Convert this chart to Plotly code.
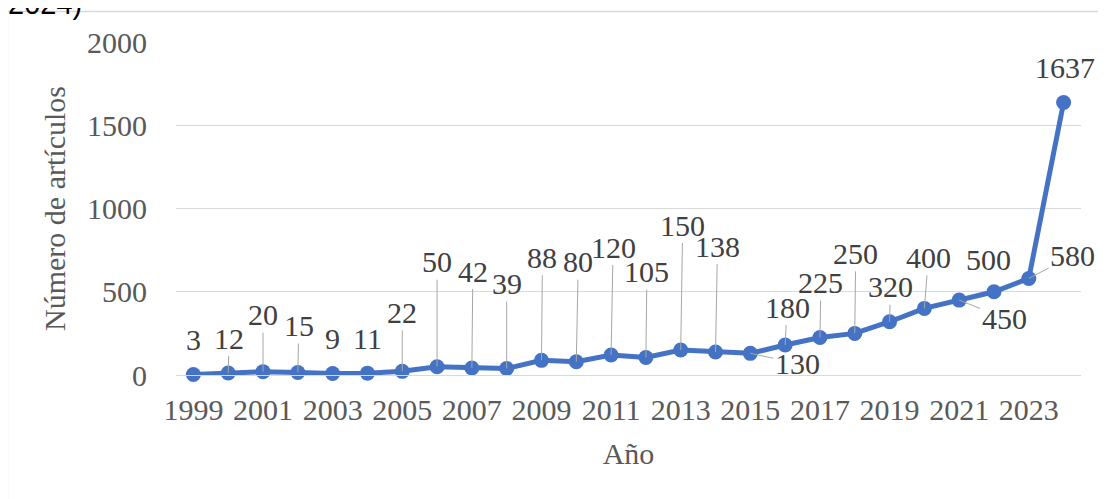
import plotly.graph_objects as go

# ---- data ----
years = list(range(1999, 2025))
articles = [3, 12, 20, 15, 9, 11, 22, 50, 42, 39, 88, 80, 120, 105, 150, 138,
            130, 180, 225, 250, 320, 400, 450, 500, 580, 1637]
x_tick_years = years[::2]
y_ticks = [0, 500, 1000, 1500, 2000]

# label placement (pixel offsets from each point) and whether a leader line is drawn
label_dx = [0, 1, 0, 1, 0, 0, 0, 0, 1, 0, 1, 2, 2, 1, 2, 2, 47, 2, 1, 1, 1, 4, 45, -5, 44, 1]
label_dy = [-35, -35, -57, -47, -35, -35, -59, -105, -97, -85, -103, -100, -108, -86,
            -125, -106, 10, -38, -55, -80, -35, -51, 18, -32, -23, -35]
leader = [False, True, True, True, False, False, True, True, True, True, True, True, True,
          True, True, True, True, True, True, True, True, True, True, False, True, False]

SERIF = "Liberation Serif, Times New Roman, serif"
TEXT_GREY = "#595959"
LABEL_GREY = "#404040"
GRID = "#D9D9D9"
BLUE = "#4472C4"

fig = go.Figure()
fig.add_trace(go.Scatter(
    x=years, y=articles, mode="lines+markers",
    line=dict(color=BLUE, width=5),
    marker=dict(color=BLUE, size=15),
    cliponaxis=False, hoverinfo="x+y", showlegend=False,
))

annotations = []
for yr, v, dx, dy, ld in zip(years, articles, label_dx, label_dy, leader):
    a = dict(x=yr, y=v, xref="x", yref="y", text=str(v),
             font=dict(family=SERIF, size=30, color=LABEL_GREY))
    if ld:
        a.update(showarrow=True, arrowhead=0, arrowwidth=1, arrowcolor="#A6A6A6",
                 ax=dx, ay=dy, standoff=0, startstandoff=0)
    else:
        a.update(showarrow=False, xshift=dx, yshift=-dy)
    annotations.append(a)

# cropped caption fragment at the very top
annotations.append(dict(text="2024)", xref="paper", yref="paper",
                        x=-0.1878, y=1.059, xanchor="left", yanchor="bottom",
                        showarrow=False,
                        font=dict(family="Liberation Sans, Arial, sans-serif", size=29, color="#000000")))

fig.update_layout(
    width=1106, height=499,
    margin=dict(l=168, r=33, t=34, b=132),
    paper_bgcolor="white", plot_bgcolor="white",
    annotations=annotations,
    shapes=[dict(type="rect", xref="paper", yref="paper",
                 x0=-0.1862, x1=1.2, y0=-0.6, y1=1.0916,
                 line=dict(color=GRID, width=1.3), fillcolor="rgba(0,0,0,0)", layer="below")],
    xaxis=dict(
        range=[1998.5, 2024.5], tickvals=x_tick_years,
        ticktext=[str(y) for y in x_tick_years],
        tickfont=dict(family=SERIF, size=30, color=TEXT_GREY),
        showgrid=False, zeroline=False, showline=True, linecolor=GRID, linewidth=1,
        ticks="", ticklabelstandoff=8,
        title=dict(text="Año", font=dict(family=SERIF, size=30, color=TEXT_GREY), standoff=17),
    ),
    yaxis=dict(
        range=[0, 2000], tickvals=y_ticks,
        tickfont=dict(family=SERIF, size=30, color=TEXT_GREY),
        showgrid=True, gridcolor=GRID, gridwidth=1, zeroline=False,
        showline=False, ticks="", ticklabelstandoff=28,
        title=dict(text="Número de artículos", font=dict(family=SERIF, size=30, color=TEXT_GREY), standoff=12),
    ),
)

fig.write_html("out.html")
